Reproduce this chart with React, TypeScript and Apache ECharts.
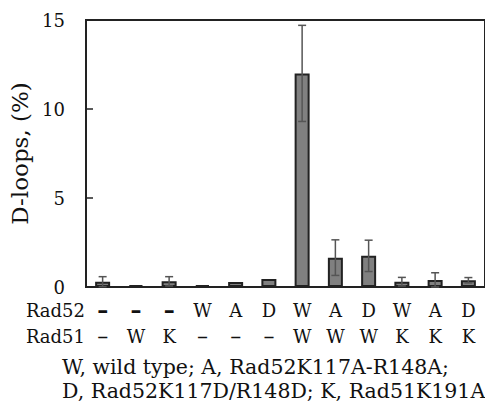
import React, { useEffect, useRef } from "react";
import * as echarts from "echarts";

const rad52 = ["–", "–", "–", "W", "A", "D", "W", "A", "D", "W", "A", "D"];
const rad51 = ["–", "W", "K", "–", "–", "–", "W", "W", "W", "K", "K", "K"];
const values = [0.3, 0.1, 0.32, 0.1, 0.28, 0.45, 12.0, 1.65, 1.75, 0.3, 0.4, 0.38];
const errors = [0.28, 0, 0.26, 0, 0, 0, 2.7, 1.0, 0.88, 0.24, 0.4, 0.15];
const yTicks = [0, 5, 10, 15];
const footnote = ["W, wild type; A, Rad52K117A-R148A;", "D, Rad52K117D/R148D; K, Rad51K191A"];

const FONT = "DejaVu Serif";

export default function App() {
  const ref = useRef<HTMLDivElement>(null);
  useEffect(() => {
    document.body.style.margin = "0";
    const chart = echarts.init(ref.current!, null, { renderer: "svg" });
    const cats = rad52.map((_, i) => String(i));
    const txt = (text: string, x: number, y: number, align: string, size: number) => ({
      type: "text",
      x,
      y,
      style: { text, fontFamily: FONT, fontSize: size, fill: "#111", align, verticalAlign: "middle" },
    });
    chart.setOption({
      animation: false,
      textStyle: { fontFamily: FONT, color: "#111" },
      grid: {
        left: 86,
        right: -3,
        top: 20,
        bottom: 118,
        show: true,
        borderColor: "#222",
        borderWidth: 2,
        backgroundColor: "transparent",
      },
      xAxis: {
        type: "category",
        data: cats,
        axisLine: { show: true, lineStyle: { color: "#222", width: 2 } },
        axisTick: { show: false },
        axisLabel: {
          margin: 10,
          interval: 0,
          formatter: (v: string) => {
            const i = Number(v);
            const a = rad52[i] === "–" ? "{d|–}" : "{t|" + rad52[i] + "}";
            const b = rad51[i] === "–" ? "{e|–}" : "{t|" + rad51[i] + "}";
            return a + "\n" + b;
          },
          rich: {
            t: { fontFamily: FONT, fontSize: 18, color: "#111", lineHeight: 26 },
            d: { fontFamily: FONT, fontSize: 22, fontWeight: "bold", color: "#111", lineHeight: 26 },
            e: { fontFamily: FONT, fontSize: 22, color: "#111", lineHeight: 26 },
          },
        },
      },
      yAxis: {
        type: "value",
        min: 0,
        max: 15,
        interval: 5,
        name: "D-loops, (%)",
        nameLocation: "middle",
        nameGap: 50,
        nameTextStyle: { fontFamily: FONT, fontSize: 23, color: "#111" },
        axisLine: { show: true, lineStyle: { color: "#222", width: 2 } },
        axisTick: { show: true, inside: true, length: 7, lineStyle: { color: "#222", width: 1.5 } },
        splitLine: { show: false },
        axisLabel: {
          margin: 21,
          fontFamily: FONT,
          fontSize: 18,
          color: "#111",
          formatter: (v: number) => (yTicks.includes(v) ? String(v) : ""),
        },
      },
      series: [
        {
          type: "bar",
          data: values,
          barWidth: 15,
          itemStyle: { color: "#808080", borderColor: "#222", borderWidth: 2 },
          z: 2,
        },
        {
          type: "custom",
          z: 3,
          data: values.map((v, i) => [i, v, errors[i]]),
          renderItem: (params: any, api: any) => {
            const i = api.value(0);
            const v = api.value(1);
            const e = api.value(2);
            if (!e) return { type: "group", children: [] };
            const top = api.coord([i, v + e]);
            const bot = api.coord([i, v - e]);
            const hw = 4;
            const style = { stroke: "#555", lineWidth: 1.5 };
            return {
              type: "group",
              children: [
                { type: "line", shape: { x1: top[0], y1: top[1], x2: bot[0], y2: bot[1] }, style },
                { type: "line", shape: { x1: top[0] - hw, y1: top[1], x2: top[0] + hw, y2: top[1] }, style },
                { type: "line", shape: { x1: bot[0] - hw, y1: bot[1], x2: bot[0] + hw, y2: bot[1] }, style },
              ],
            };
          },
        },
      ],
      graphic: [
        txt("Rad52", 85, 310, "right", 18),
        txt("Rad51", 85, 336, "right", 18),
        txt(footnote[0], 62, 367, "left", 20.5),
        txt(footnote[1], 62, 391, "left", 20.5),
      ],
    });
    return () => chart.dispose();
  }, []);
  return <div ref={ref} style={{ width: 485, height: 405 }} />;
}
